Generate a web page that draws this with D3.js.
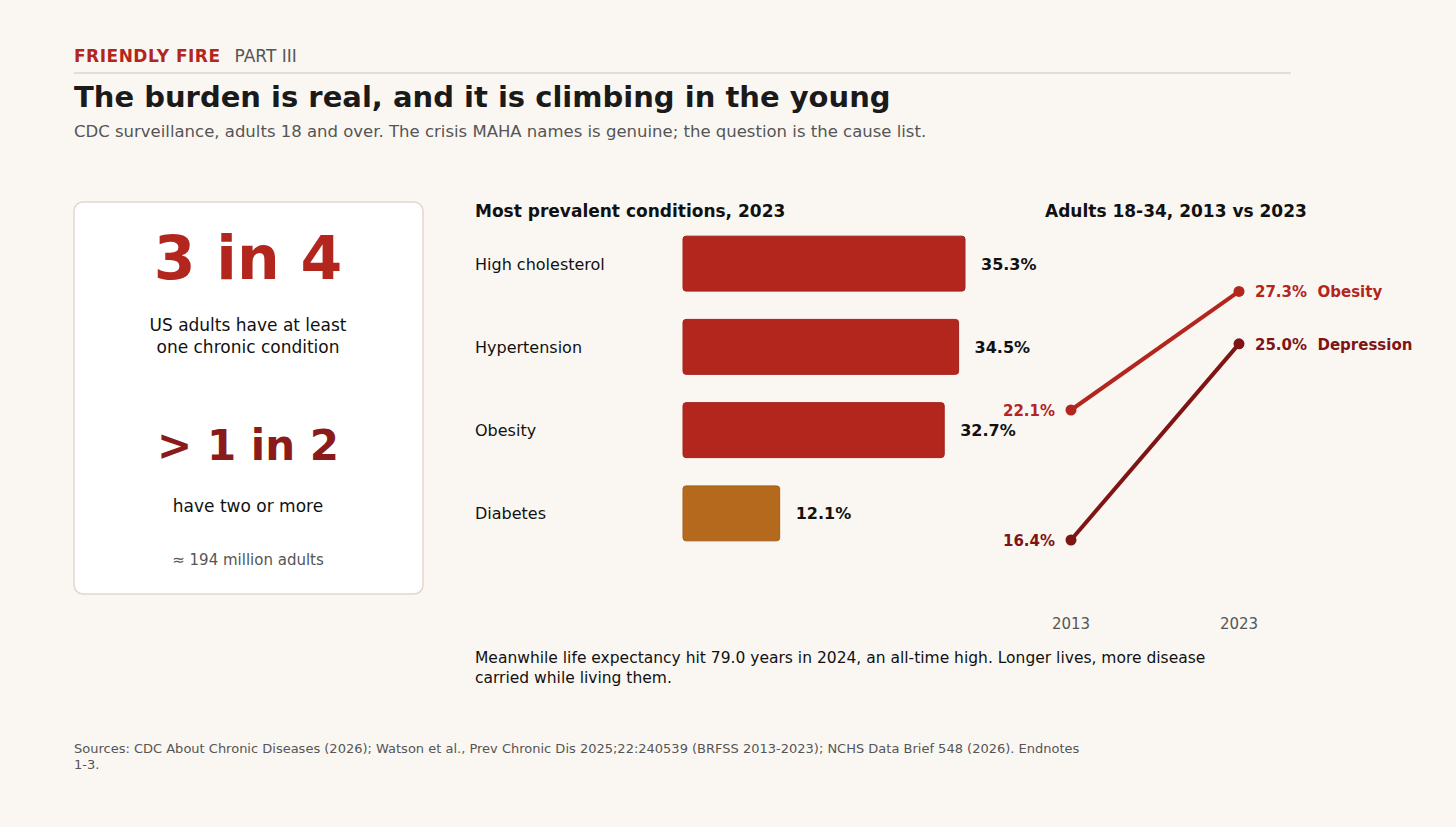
<!DOCTYPE html>
<html>
<head>
<meta charset="utf-8">
<style>
  body { margin: 0; background: #faf7f3; }
  svg { display: block; font-family: 'DejaVu Sans', sans-serif; }
</style>
</head>
<body>
<svg width="1456" height="827"></svg>
<script src="https://d3js.org/d3.v7.min.js"></script>
<script>
// data
const conditions = ["High cholesterol", "Hypertension", "Obesity", "Diabetes"];
const prevalence = [35.3, 34.5, 32.7, 12.1];
const barColors = ["#b3261e", "#b3261e", "#b3261e", "#b5691c"];
const years = ["2013", "2023"];
const slopeSeries = ["Obesity", "Depression"];
const slopeValues = [[22.1, 27.3], [16.4, 25.0]];
const slopeColors = ["#b3261e", "#7f1414"];

const svg = d3.select("svg");
svg.append("rect").attr("width", 1456).attr("height", 827).attr("fill", "#faf7f3");

// header
const kick = svg.append("text").attr("x", 74).attr("y", 62).attr("font-size", 17);
kick.append("tspan").attr("fill", "#b3261e").attr("font-weight", "bold").attr("letter-spacing", 0.5).text("FRIENDLY FIRE");
kick.append("tspan").attr("dx", 14).attr("fill", "#555").text("PART III");
svg.append("line").attr("x1", 74).attr("x2", 1291).attr("y1", 73).attr("y2", 73).attr("stroke", "#ddd5cd").attr("stroke-width", 1.5);
svg.append("text").attr("x", 74).attr("y", 107).attr("font-size", 29).attr("font-weight", "bold").attr("fill", "#1a1a1a")
  .text("The burden is real, and it is climbing in the young");
svg.append("text").attr("x", 74).attr("y", 137).attr("font-size", 16.5).attr("fill", "#555")
  .text("CDC surveillance, adults 18 and over. The crisis MAHA names is genuine; the question is the cause list.");

// card
svg.append("rect").attr("x", 74).attr("y", 202).attr("width", 349).attr("height", 392).attr("rx", 9)
  .attr("fill", "#fff").attr("stroke", "#e2d6cf").attr("stroke-width", 1.5);
const cx = 248;
const card = [
  { t: "3 in 4", y: 279, s: 60, w: "bold", c: "#b3261e" },
  { t: "US adults have at least", y: 331, s: 17, w: "normal", c: "#111" },
  { t: "one chronic condition", y: 353, s: 17, w: "normal", c: "#111" },
  { t: "> 1 in 2", y: 460, s: 42, w: "bold", c: "#8b1a1a" },
  { t: "have two or more", y: 512, s: 17, w: "normal", c: "#111" },
  { t: "≈ 194 million adults", y: 565, s: 15, w: "normal", c: "#555" }
];
svg.selectAll(".card").data(card).join("text").attr("x", cx).attr("y", d => d.y)
  .attr("text-anchor", "middle").attr("font-size", d => d.s).attr("font-weight", d => d.w).attr("fill", d => d.c).text(d => d.t);

// bars
svg.append("text").attr("x", 475).attr("y", 217).attr("font-size", 17).attr("font-weight", "bold").attr("fill", "#111")
  .text("Most prevalent conditions, 2023");
const x = d3.scaleLinear().domain([0, 35.3]).range([683, 965]);
const y = d3.scaleBand().domain(conditions).range([222, 555]).paddingInner(0.34).paddingOuter(0.17);
const g = svg.append("g");
conditions.forEach((c, i) => {
  g.append("text").attr("x", 475).attr("y", y(c) + y.bandwidth() / 2 + 6).attr("font-size", 16).attr("fill", "#111").text(c);
  g.append("rect").attr("x", x(0)).attr("y", y(c)).attr("width", x(prevalence[i]) - x(0)).attr("height", y.bandwidth())
    .attr("rx", 3).attr("fill", barColors[i]).attr("stroke", d3.color(barColors[i]).darker(0.3)).attr("stroke-width", 1);
  g.append("text").attr("x", x(prevalence[i]) + 16).attr("y", y(c) + y.bandwidth() / 2 + 6).attr("font-size", 16)
    .attr("font-weight", "bold").attr("fill", "#111").text(prevalence[i].toFixed(1) + "%");
});

// slope chart
svg.append("text").attr("x", 1045).attr("y", 217).attr("font-size", 17).attr("font-weight", "bold").attr("fill", "#111")
  .text("Adults 18-34, 2013 vs 2023");
const sx = d3.scalePoint().domain(years).range([1071, 1239]);
const sy = d3.scaleLinear().domain([16.4, 22.1]).range([540, 410]);
slopeSeries.forEach((s, i) => {
  const v = slopeValues[i], col = slopeColors[i];
  svg.append("path").attr("d", d3.line().x((d, j) => sx(years[j])).y(d => sy(d))(v))
    .attr("stroke", col).attr("stroke-width", 4).attr("fill", "none");
  v.forEach((d, j) => svg.append("circle").attr("cx", sx(years[j])).attr("cy", sy(d)).attr("r", 5.5).attr("fill", col));
  svg.append("text").attr("x", sx(years[0]) - 16).attr("y", sy(v[0]) + 6).attr("text-anchor", "end")
    .attr("font-size", 15).attr("font-weight", "bold").attr("fill", col).text(v[0].toFixed(1) + "%");
  svg.append("text").attr("x", sx(years[1]) + 16).attr("y", sy(v[1]) + 6)
    .attr("font-size", 15).attr("font-weight", "bold").attr("fill", col).attr("xml:space", "preserve")
    .text(v[1].toFixed(1) + "%  " + s);
});
svg.selectAll(".yr").data(years).join("text").attr("x", d => sx(d)).attr("y", 629).attr("text-anchor", "middle")
  .attr("font-size", 15).attr("fill", "#555").text(d => d);

// notes
[["Meanwhile life expectancy hit 79.0 years in 2024, an all-time high. Longer lives, more disease", 663],
 ["carried while living them.", 683]].forEach(([t, yy]) =>
  svg.append("text").attr("x", 475).attr("y", yy).attr("font-size", 15.5).attr("fill", "#111").text(t));
[["Sources: CDC About Chronic Diseases (2026); Watson et al., Prev Chronic Dis 2025;22:240539 (BRFSS 2013-2023); NCHS Data Brief 548 (2026). Endnotes", 753],
 ["1-3.", 769]].forEach(([t, yy]) =>
  svg.append("text").attr("x", 74).attr("y", yy).attr("font-size", 13).attr("fill", "#555").text(t));
</script>
</body>
</html>
